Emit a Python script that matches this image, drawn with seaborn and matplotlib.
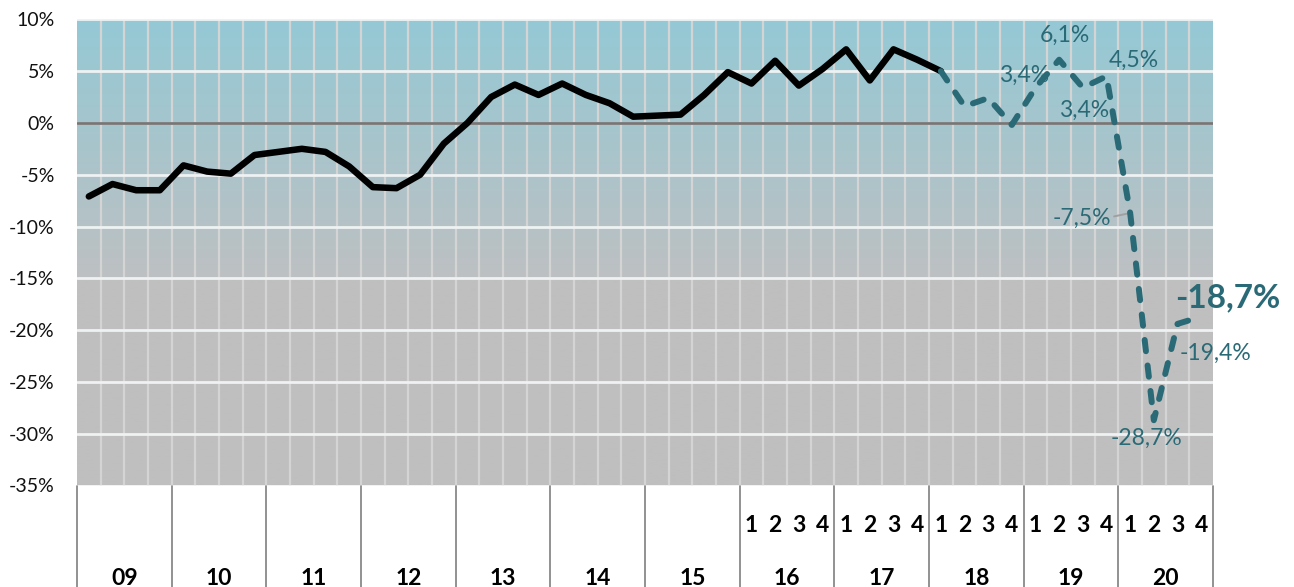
import numpy as np
import pandas as pd
import matplotlib
matplotlib.use("Agg")
import matplotlib.pyplot as plt
import matplotlib.transforms as mtransforms
import seaborn as sns

# quarterly values, 2009 Q1 .. 2020 Q4 (in %)
years = ["09", "10", "11", "12", "13", "14", "15", "16", "17", "18", "19", "20"]
quarter_names = ["1", "2", "3", "4"]
years_with_quarters = ["16", "17", "18", "19", "20"]
growth = [-7.1, -5.9, -6.5, -6.5, -4.1, -4.7, -4.9, -3.1,
          -2.8, -2.5, -2.8, -4.2, -6.2, -6.3, -5.0, -2.0,
          0.0, 2.5, 3.7, 2.7, 3.8, 2.7, 1.9, 0.6,
          0.7, 0.8, 2.7, 4.9, 3.8, 6.0, 3.6, 5.2,
          7.1, 4.1, 7.1, 6.1, 5.0, 1.6, 2.4, -0.2,
          3.4, 6.1, 3.4, 4.5, -8.7, -28.7, -19.4, -18.7]
solid_last = 36  # 2018 Q1: last point of the solid series, first of the dashed one

label_idx = [40, 41, 42, 43, 44, 45, 46, 47]
label_txt = ["3,4%", "6,1%", "3,4%", "4,5%", "-7,5%", "-28,7%", "-19,4%", "-18,7%"]
label_off = [(-8, 9), (4, 17.5), (1, -16), (19.5, 11.5), (-35, -3.5), (-5.5, -13), (27.5, -21), (19.5, 13.5)]

teal = "#2a6a76"

sns.set_style("white")
plt.rcParams["font.family"] = ["Lato", "DejaVu Sans"]

df = pd.DataFrame({"pos": np.arange(len(growth)), "value": growth})
solid = df.iloc[:solid_last + 1]
dashed = df.iloc[solid_last:]

fig = plt.figure(figsize=(12.94, 5.87), dpi=100)
ax = fig.add_axes([77 / 1294, 1 - 485.5 / 587, (1213 - 77) / 1294, (485.5 - 19.3) / 587])

n = len(growth)
ax.set_xlim(-0.5, n - 0.5)
ax.set_ylim(-35, 10)

# background: teal at the top fading into flat grey from -15% down
yy = np.linspace(10, -35, 400)
top = np.array([148, 201, 213]) / 255
mid = np.array([189, 192, 194]) / 255
low = np.array([191, 191, 191]) / 255
t = np.clip((10 - yy) / 25, 0, 1)[:, None]
cols = top * (1 - t) + mid * t
cols[yy < -15] = low
ax.imshow(cols[:, None, :], extent=[-0.5, n - 0.5, -35, 10], aspect="auto", zorder=0, interpolation="bilinear")

ax.set_axisbelow(True)
ax.set_yticks(range(-35, 11, 5))
ax.set_yticklabels([f"{v}%" for v in range(-35, 11, 5)], fontsize=14, color="#111111")
ax.set_xticks([])
ax.set_xticks(np.arange(0.5, n - 1, 1), minor=True)
ax.grid(axis="y", which="major", color="#eef2f3", lw=2)
ax.grid(axis="x", which="minor", color="#d4d4d4", lw=1.6)
ax.tick_params(axis="y", length=0, pad=16)
ax.tick_params(axis="x", which="both", length=0)
ax.axhline(0, color="#767676", lw=2, zorder=1)
for s in ax.spines.values():
    s.set_visible(False)

sns.lineplot(data=solid, x="pos", y="value", color="black", linewidth=4.7, ax=ax,
             solid_capstyle="round", solid_joinstyle="round", zorder=3)
sns.lineplot(data=dashed, x="pos", y="value", color=teal, linewidth=4.3, ax=ax,
             linestyle=(0, (1.9, 2.4)), dash_capstyle="round", dash_joinstyle="round", zorder=3)
ax.set_xlabel("")
ax.set_ylabel("")

for i, txt, off in zip(label_idx, label_txt, label_off):
    big = i == label_idx[-1]
    kw = {}
    if txt == "-7,5%":
        kw["arrowprops"] = dict(arrowstyle="-", color="#a0a0a0", lw=1.4, shrinkA=0, shrinkB=0,
                                relpos=(1.02, 0.55))
    ax.annotate(txt, xy=(i, growth[i]), xytext=off, textcoords="offset points",
                ha="center", va="center", color=teal,
                fontsize=24 if big else 16.5, fontweight="bold" if big else "normal",
                annotation_clip=False, zorder=2.5, **kw)

# two-level category axis below the plot
trans = mtransforms.blended_transform_factory(ax.transData, ax.transAxes)
for k in range(len(years) + 1):
    ax.plot([4 * k - 0.5, 4 * k - 0.5], [0, -0.25], transform=trans, color="#7f7f7f",
            lw=1.2, clip_on=False)
for k, yr in enumerate(years):
    ax.text(4 * k + 1.5, -0.2, yr, transform=trans, ha="center", va="center",
            fontsize=16.5, fontweight="bold", color="black")
    if yr in years_with_quarters:
        for q, qn in enumerate(quarter_names):
            ax.text(4 * k + q, -0.085, qn, transform=trans, ha="center", va="center",
                    fontsize=16.5, fontweight="bold", color="black")

fig.savefig("out.png", dpi=100, facecolor="white")
